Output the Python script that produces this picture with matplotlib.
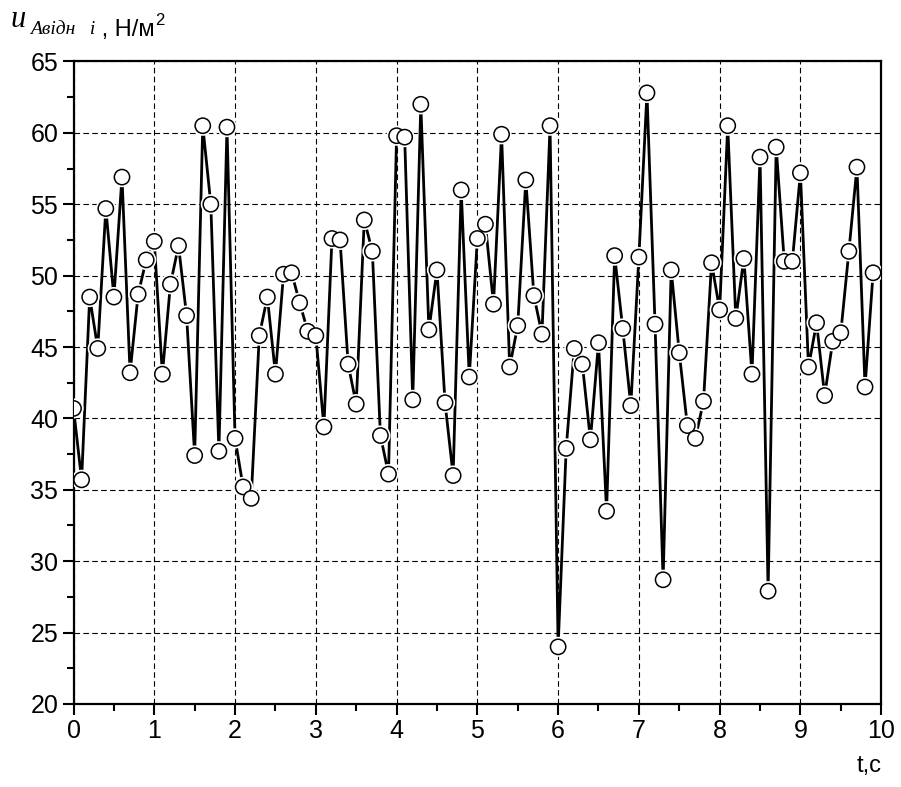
import numpy as np
import matplotlib
matplotlib.use("Agg")
import matplotlib.pyplot as plt
import matplotlib.patheffects as pe
from matplotlib.ticker import MultipleLocator

plt.rcParams.update({'font.family': 'Liberation Sans', 'font.size': 18})

# time step 0.1 s, 100 samples
t = np.arange(100) / 10.0

# pressure values, N/m^2
u_0 = [40.7, 35.7, 48.5, 44.9, 54.7, 48.5, 56.9, 43.2, 48.7, 51.1]
u_1 = [52.4, 43.1, 49.4, 52.1, 47.2, 37.4, 60.5, 55.0, 37.7, 60.4]
u_2 = [38.6, 35.2, 34.4, 45.8, 48.5, 43.1, 50.1, 50.2, 48.1, 46.1]
u_3 = [45.8, 39.4, 52.6, 52.5, 43.8, 41.0, 53.9, 51.7, 38.8, 36.1]
u_4 = [59.8, 59.7, 41.3, 62.0, 46.2, 50.4, 41.1, 36.0, 56.0, 42.9]
u_5 = [52.6, 53.6, 48.0, 59.9, 43.6, 46.5, 56.7, 48.6, 45.9, 60.5]
u_6 = [24.0, 37.9, 44.9, 43.8, 38.5, 45.3, 33.5, 51.4, 46.3, 40.9]
u_7 = [51.3, 62.8, 46.6, 28.7, 50.4, 44.6, 39.5, 38.6, 41.2, 50.9]
u_8 = [47.6, 60.5, 47.0, 51.2, 43.1, 58.3, 27.9, 59.0, 51.0, 51.0]
u_9 = [57.2, 43.6, 46.7, 41.6, 45.4, 46.0, 51.7, 57.6, 42.2, 50.2]

u = np.array(u_0 + u_1 + u_2 + u_3 + u_4 + u_5 + u_6 + u_7 + u_8 + u_9)

fig = plt.figure(figsize=(9.01, 7.87), dpi=100)
ax = fig.add_axes([0.0816, 0.1055, 0.8964, 0.8164])

ax.plot(t, u, color='k', lw=2.0, zorder=3)
ax.plot(t, u, ls='none', marker='o', ms=11, mfc='white', mec='k', mew=1.1, zorder=4,
        path_effects=[pe.Stroke(linewidth=3.5, foreground='white'), pe.Normal()])

ax.set_xlim(0, 10)
ax.set_ylim(20, 65)
ax.xaxis.set_major_locator(MultipleLocator(1))
ax.xaxis.set_minor_locator(MultipleLocator(0.5))
ax.yaxis.set_major_locator(MultipleLocator(5))
ax.yaxis.set_minor_locator(MultipleLocator(2.5))

ax.tick_params(which='both', direction='out', top=False, right=False, width=1.5)
ax.tick_params(which='major', length=8, labelsize=18, pad=3)
ax.tick_params(which='minor', length=5)

for s in ax.spines.values():
    s.set_linewidth(1.6)

ax.grid(True, which='major', color='k', lw=0.8, ls=(0, (5, 3)), zorder=1)

# axis labels
ax.text(1.0, -0.08, 't,c', transform=ax.transAxes, ha='right', va='top', fontsize=17)

u_lbl = fig.text(0.012, 0.966, 'u', family='Liberation Serif', style='italic', fontsize=22)
sub = ax.annotate('Авідн   i', xy=(1, 0), xycoords=u_lbl, xytext=(3, -3), textcoords='offset points',
                  family='Liberation Serif', style='italic', fontsize=14, va='bottom')
unit = ax.annotate(' , Н/м', xy=(1, 0), xycoords=sub, xytext=(0, -2), textcoords='offset points',
                   fontsize=17, va='bottom')
ax.annotate('2', xy=(1, 1), xycoords=unit, xytext=(0, -7), textcoords='offset points',
            fontsize=12, va='bottom')

fig.savefig('out.png', dpi=100)
